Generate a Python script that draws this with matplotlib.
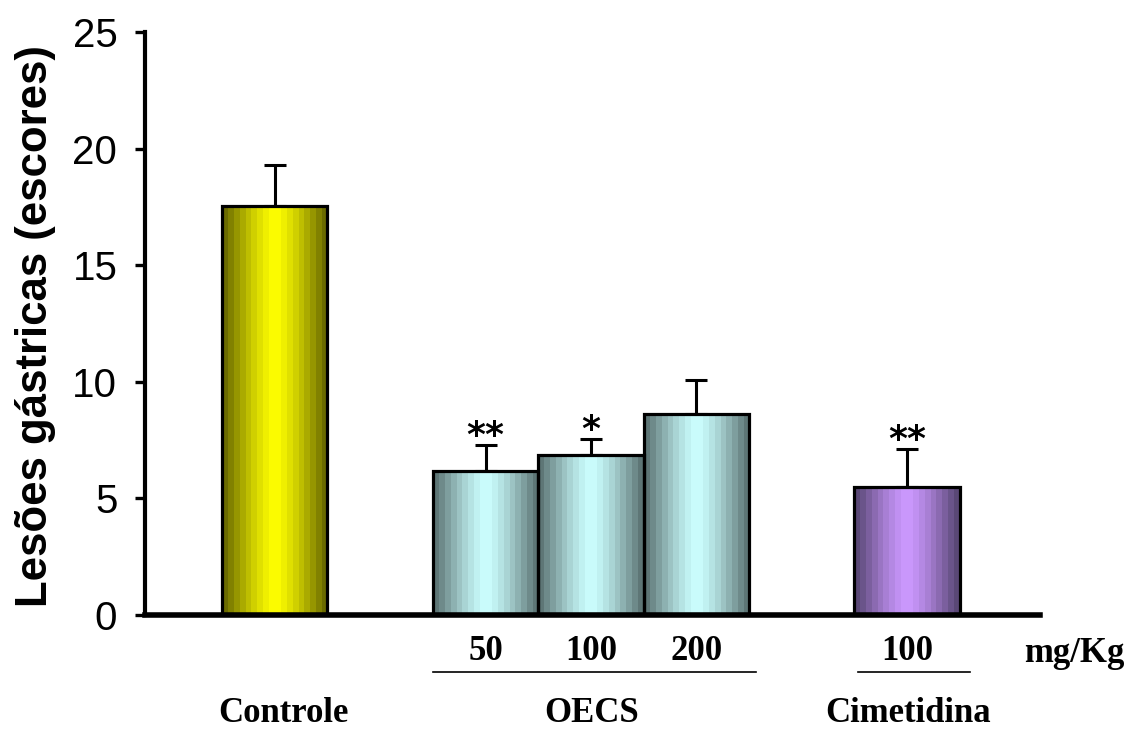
import numpy as np
import matplotlib
matplotlib.use('Agg')
import matplotlib.pyplot as plt
from matplotlib.colors import LinearSegmentedColormap
from matplotlib.transforms import blended_transform_factory

# values
groups = ['Controle', 'OECS', 'OECS', 'OECS', 'Cimetidina']
doses = ['', '50', '100', '200', '100']
means = [17.55, 6.17, 6.86, 8.62, 5.49]
errs = [1.75, 1.12, 0.69, 1.46, 1.63]
stars = ['', '**', '*', '', '**']
pos = [1, 3, 4, 5, 7]

edge_dark = ['#6b6b00', '#5e7676', '#5e7676', '#5e7676', '#5a4876']
center = ['#ffff00', '#ccffff', '#ccffff', '#ccffff', '#cc99ff']

fig = plt.figure(figsize=(11.35, 7.32), dpi=100)
ax = fig.add_axes([0.1278, 0.1598, 0.7885, 0.7965])

w = 1.0
stripes = 1 - np.abs(np.linspace(-1, 1, 18)) ** 1.3
for x, m, dk, lt in zip(pos, means, edge_dark, center):
    cmap = LinearSegmentedColormap.from_list('g', [dk, lt])
    ax.imshow(stripes[np.newaxis, :], extent=[x - w / 2, x + w / 2, 0, m],
              aspect='auto', cmap=cmap, vmin=0, vmax=1,
              interpolation='nearest', zorder=2)
    ax.add_patch(plt.Rectangle((x - w / 2, 0), w, m, fill=False,
                               edgecolor='black', linewidth=2.3, zorder=3))

ax.errorbar(pos, means, yerr=[np.zeros(len(means)), errs], fmt='none',
            ecolor='black', elinewidth=2.2, capsize=8, capthick=2.2, zorder=1)

# significance marks just above the caps
for x, m, e, s in zip(pos, means, errs, stars):
    if s:
        ax.annotate(s, (x, m + e), xytext=(0, -1), textcoords='offset points',
                    ha='center', va='baseline', fontsize=26,
                    family='DejaVu Sans', fontweight='bold')

ax.set_xlim(-0.23, 8.26)
ax.set_ylim(0, 25)
ax.set_yticks([0, 5, 10, 15, 20, 25])
ax.set_xticks([])
ax.tick_params(axis='y', direction='out', length=7, width=2.4, labelsize=29, pad=13)
for t in ax.get_yticklabels():
    t.set_family('Liberation Sans')
ax.spines['top'].set_visible(False)
ax.spines['right'].set_visible(False)
ax.spines['left'].set_linewidth(3.0)
ax.spines['bottom'].set_linewidth(4.0)
ax.set_ylabel('Lesões gástricas (escores)', fontsize=31.5, fontweight='bold',
              family='Liberation Sans')
ax.yaxis.set_label_coords(-0.1, 0.495)

tr = blended_transform_factory(ax.transData, fig.transFigure)
serif = dict(family='Liberation Serif', fontweight='bold', fontsize=25,
             ha='center', va='center', transform=tr)
for x, d in zip(pos, doses):
    if d:
        fig.text(x, 1 - 652 / 732, d, **serif)
fig.text(8.59, 1 - 653 / 732, 'mg/Kg', **serif)
fig.text(1.08, 1 - 714 / 732, 'Controle', **serif)
fig.text(4.01, 1 - 714 / 732, 'OECS', **serif)
fig.text(7.01, 1 - 714 / 732, 'Cimetidina', **serif)

yl = 1 - 672 / 732
fig.add_artist(plt.Line2D([2.5, 5.57], [yl, yl], color='black', lw=1.2, transform=tr))
fig.add_artist(plt.Line2D([6.53, 7.6], [yl, yl], color='black', lw=1.2, transform=tr))

fig.savefig('out.png', dpi=100)
